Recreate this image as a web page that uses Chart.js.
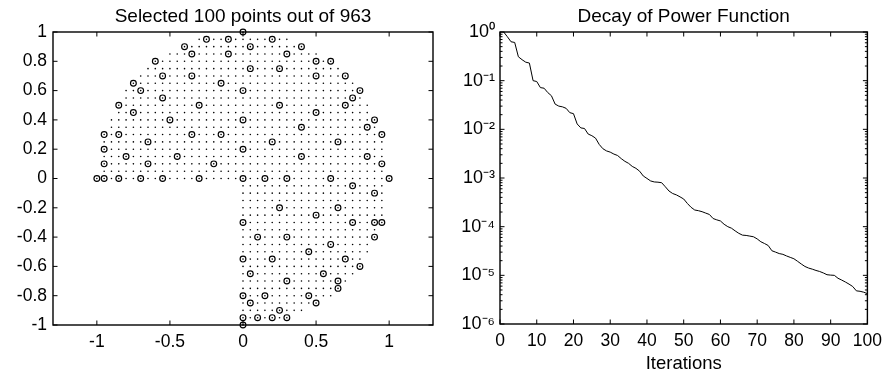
<!DOCTYPE html>
<html><head><meta charset="utf-8">
<script src="https://cdn.jsdelivr.net/npm/chart.js@4"></script>
<style>
html,body{margin:0;padding:0;background:#fff;width:889px;height:376px;overflow:hidden}
#c1{position:absolute;left:0;top:0}
#c2{position:absolute;left:445px;top:0}
</style></head><body>
<canvas id="c1" width="445" height="376"></canvas>
<canvas id="c2" width="444" height="376"></canvas>
<script>
// ---------- Left panel: candidate grid (rows of the 0.05 lattice) ----------
const gridStep = 0.05;
const gridRowY = [1.00,0.95,0.90,0.85,0.80,0.75,0.70,0.65,0.60,0.55,0.50,0.45,0.40,0.35,0.30,0.25,0.20,0.15,0.10,0.05,0.00,
  -0.05,-0.10,-0.15,-0.20,-0.25,-0.30,-0.35,-0.40,-0.45,-0.50,-0.55,-0.60,-0.65,-0.70,-0.75,-0.80,-0.85,-0.90,-0.95,-1.00];
const gridRowXMin = [0.00,-0.30,-0.40,-0.50,-0.60,-0.65,-0.70,-0.75,-0.80,-0.80,-0.85,-0.85,-0.90,-0.90,-0.95,-0.95,-0.95,-0.95,-0.95,-0.95,-1.00,
  0,0,0,0,0,0,0,0,0,0,0,0,0,0,0,0,0,0,0,0];
const gridRowXMax = [0.00,0.30,0.40,0.50,0.60,0.65,0.70,0.75,0.80,0.80,0.85,0.85,0.90,0.90,0.95,0.95,0.95,0.95,0.95,0.95,1.00,
  0.95,0.95,0.95,0.95,0.95,0.95,0.90,0.90,0.85,0.85,0.80,0.80,0.75,0.70,0.65,0.60,0.50,0.40,0.30,0.00];

// ---------- Left panel: the 100 selected points ----------
const selX = [-0.25,-0.10,-0.40,-0.35,-0.10,-0.60,-0.55,-0.35,-0.75,-0.15,
  -0.70,-0.55,-0.85,-0.30,-0.75,-0.50,-0.95,-0.85,-0.35,-0.15,
  -0.65,-0.95,-0.80,-0.45,-0.95,-0.65,-0.20,-1.00,-0.95,-0.85,
  -0.70,-0.55,-0.30,
  0,0,0,0,0,0,0,0,0,0,
  0.20,0.05,0.40,0.30,0.50,0.60,0.05,0.25,0.50,0.70,
  0.80,0.75,0.25,0.70,0.50,0.90,0.40,0.85,0.95,0.20,
  0.65,0.40,0.85,0.95,0.15,0.30,0.60,1.00,
  0.75,0.90,0.25,0.65,0.50,0.75,0.90,0.95,0.10,0.30,
  0.90,0.60,0.45,0.20,0.70,0.80,0.05,0.55,0.30,0.65,
  0.65,0.15,0.45,0.05,0.50,0.25,0.10,0.20,0.30];
const selY = [0.95,0.95,0.90,0.85,0.85,0.80,0.70,0.70,0.65,0.65,
  0.60,0.55,0.50,0.50,0.45,0.40,0.30,0.30,0.30,0.30,
  0.25,0.20,0.15,0.15,0.10,0.10,0.10,0.00,0.00,0.00,
  0.00,0.00,0.00,
  1.00,0.60,0.40,0.20,0.00,-0.30,-0.55,-0.80,-0.95,-1.00,
  0.95,0.90,0.90,0.85,0.80,0.80,0.75,0.75,0.70,0.70,
  0.60,0.55,0.50,0.50,0.45,0.40,0.35,0.35,0.30,0.25,
  0.25,0.15,0.15,0.10,0.00,0.00,0.00,0.00,
  -0.05,-0.10,-0.20,-0.20,-0.25,-0.30,-0.30,-0.30,-0.40,-0.40,
  -0.40,-0.45,-0.50,-0.55,-0.55,-0.60,-0.65,-0.65,-0.70,-0.70,
  -0.75,-0.80,-0.80,-0.85,-0.85,-0.90,-0.95,-0.95,-0.95];

const leftXTicks = [-1,-0.5,0,0.5,1];
const leftXTickLabels = ['-1','-0.5','0','0.5','1'];
const leftYTicks = [-1,-0.8,-0.6,-0.4,-0.2,0,0.2,0.4,0.6,0.8,1];
const leftYTickLabels = ['-1','-0.8','-0.6','-0.4','-0.2','0','0.2','0.4','0.6','0.8','1'];

// ---------- Right panel: decay of power function ----------
const iterations = [];
for (let i = 1; i <= 100; i++) iterations.push(i);
const powerValues = [
  1.0,0.80,0.63,0.61,0.31,0.27,0.24,0.23,0.10,0.096,
  0.072,0.070,0.057,0.049,0.033,0.030,0.029,0.027,0.022,0.021,
  0.0129,0.0107,0.0104,0.0080,0.0074,0.0066,0.0049,0.0040,0.0036,0.0034,
  0.0031,0.0029,0.0025,0.0022,0.0020,0.00173,0.00158,0.00138,0.0011,0.00098,
  0.00087,0.00083,0.00082,0.00080,0.00066,0.00054,0.00048,0.00045,0.00041,0.00037,
  0.00030,0.00025,0.00022,0.000213,0.000203,0.00019,0.000178,0.000147,0.000138,0.000131,
  0.000112,0.00010,0.000093,0.000082,0.000073,0.000067,0.000066,0.000064,0.000062,0.000056,
  0.000049,0.000045,0.000041,0.000032,0.000030,0.000028,0.000027,0.000025,0.0000234,0.0000219,
  0.0000194,0.0000171,0.0000152,0.0000141,0.0000134,0.0000126,0.0000120,0.0000112,0.0000103,0.0000101,
  0.0000100,0.0000087,0.0000080,0.0000073,0.0000066,0.0000059,0.0000048,0.0000047,0.0000045,0.0000042];
const rightXTicks = [0,10,20,30,40,50,60,70,80,90,100];
const rightYTicks = [1e-6,1e-5,1e-4,1e-3,1e-2,1e-1,1];
const rightYTickLabels = ['10\u207B\u2076','10\u207B\u2075','10\u207B\u2074','10\u207B\u00B3','10\u207B\u00B2','10\u207B\u00B9','10\u2070'];

// ---------- build datasets ----------
const gridPts = [];
gridRowY.forEach((yv, r) => {
  const n = Math.round((gridRowXMax[r] - gridRowXMin[r]) / gridStep);
  for (let j = 0; j <= n; j++) gridPts.push({x: +(gridRowXMin[r] + j * gridStep).toFixed(2), y: yv});
});
const selPts = selX.map((xv, i) => ({x: xv, y: selY[i]}));
const decayPts = iterations.map((n, i) => ({x: n, y: powerValues[i]}));

const FONT = "'Liberation Sans', Arial, Helvetica, sans-serif";

const boxPlugin = {
  id: 'matlabBox',
  afterDraw(chart) {
    const {ctx, chartArea: a, scales: {x, y}} = chart;
    ctx.save();
    ctx.strokeStyle = '#000';
    ctx.lineWidth = 1.4;
    ctx.strokeRect(a.left, a.top, a.right - a.left, a.bottom - a.top);
    ctx.lineWidth = 1;
    const L = 4.5, Lm = 2.5;
    ctx.beginPath();
    x.ticks.forEach(t => {
      const p = x.getPixelForValue(t.value);
      ctx.moveTo(p, a.bottom); ctx.lineTo(p, a.bottom - L);
      ctx.moveTo(p, a.top); ctx.lineTo(p, a.top + L);
    });
    y.ticks.forEach(t => {
      const p = y.getPixelForValue(t.value);
      ctx.moveTo(a.left, p); ctx.lineTo(a.left + L, p);
      ctx.moveTo(a.right, p); ctx.lineTo(a.right - L, p);
    });
    if (y.type === 'logarithmic') {
      for (let e = -6; e < 0; e++) {
        for (let m = 2; m <= 9; m++) {
          const p = y.getPixelForValue(m * Math.pow(10, e));
          ctx.moveTo(a.left, p); ctx.lineTo(a.left + Lm, p);
          ctx.moveTo(a.right, p); ctx.lineTo(a.right - Lm, p);
        }
      }
    }
    ctx.stroke();
    ctx.restore();
  }
};

Chart.defaults.font.family = FONT;
Chart.defaults.color = '#000';

new Chart(document.getElementById('c1'), {
  type: 'scatter',
  data: {datasets: [
    {data: selPts, pointRadius: 2.9, pointHoverRadius: 2.9, pointBorderColor: '#000',
     pointBackgroundColor: 'rgba(0,0,0,0)', pointBorderWidth: 1.15, clip: false},
    {data: gridPts, pointRadius: 0.8, pointHoverRadius: 0.8, pointBackgroundColor: '#000',
     pointBorderWidth: 0, clip: false}
  ]},
  options: {
    responsive: false, animation: false, devicePixelRatio: 1,
    events: [],
    layout: {padding: {left: 0, right: 12, top: 0, bottom: 0}},
    plugins: {
      legend: {display: false}, tooltip: {enabled: false},
      title: {display: true, text: 'Selected 100 points out of 963', fullSize: false, color: '#000',
        font: {family: FONT, size: 19, weight: 'normal', lineHeight: 1.2}, padding: {top: 5.5, bottom: 3.7}}
    },
    scales: {
      x: {type: 'linear', min: -1.3, max: 1.3,
        afterBuildTicks: s => { s.ticks = leftXTicks.map(v => ({value: v})); },
        ticks: {callback: (v, i) => leftXTickLabels[i], font: {size: 17.5}, padding: 7, maxRotation: 0, autoSkip: false, color: '#000'},
        grid: {display: false, drawTicks: false}, border: {display: false},
        afterFit: s => { s.height = 51; }},
      y: {type: 'linear', min: -1, max: 1,
        afterBuildTicks: s => { s.ticks = leftYTicks.map(v => ({value: v})); },
        ticks: {callback: (v, i) => leftYTickLabels[i], font: {size: 17.5}, padding: 6, autoSkip: false, color: '#000'},
        grid: {display: false, drawTicks: false}, border: {display: false},
        afterFit: s => { s.width = 53; }}
    }
  },
  plugins: [boxPlugin]
});

new Chart(document.getElementById('c2'), {
  type: 'line',
  data: {datasets: [
    {data: decayPts, borderColor: '#000', borderWidth: 1, pointRadius: 0, fill: false, tension: 0}
  ]},
  options: {
    responsive: false, animation: false, devicePixelRatio: 1,
    events: [],
    layout: {padding: {left: 0, right: 17, top: 0, bottom: 0}},
    plugins: {
      legend: {display: false}, tooltip: {enabled: false},
      title: {display: true, text: 'Decay of Power Function', fullSize: false, color: '#000',
        font: {family: FONT, size: 19, weight: 'normal', lineHeight: 1.2}, padding: {top: 5.5, bottom: 3.7}}
    },
    scales: {
      x: {type: 'linear', min: 0, max: 100,
        afterBuildTicks: s => { s.ticks = rightXTicks.map(v => ({value: v})); },
        ticks: {font: {size: 17.5}, padding: 7, maxRotation: 0, autoSkip: false, color: '#000'},
        title: {display: true, text: 'Iterations', font: {family: FONT, size: 18.5}, color: '#000', padding: {top: 1, bottom: 1}},
        grid: {display: false, drawTicks: false}, border: {display: false},
        afterFit: s => { s.height = 52; }},
      y: {type: 'logarithmic', min: 1e-6, max: 1,
        afterBuildTicks: s => { s.ticks = rightYTicks.map(v => ({value: v})); },
        ticks: {callback: (v, i) => rightYTickLabels[i], font: {size: 18}, padding: 5, autoSkip: false, color: '#000'},
        grid: {display: false, drawTicks: false}, border: {display: false},
        afterFit: s => { s.width = 55; }}
    }
  },
  plugins: [boxPlugin]
});
</script>
</body></html>
